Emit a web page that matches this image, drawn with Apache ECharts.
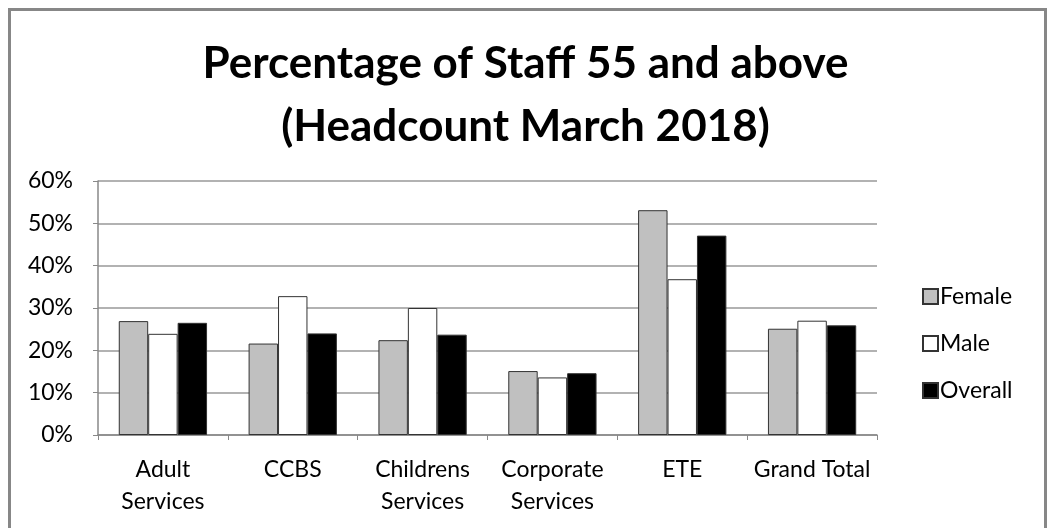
<!DOCTYPE html>
<html><head><meta charset="utf-8">
<script src="https://cdn.jsdelivr.net/npm/echarts@6/dist/echarts.min.js"></script>
<style>html,body{margin:0;padding:0;background:#fff}#c{width:1051px;height:528px}</style>
</head><body><div id="c"></div>
<script>
var categories = ['Adult\nServices', 'CCBS', 'Childrens\nServices', 'Corporate\nServices', 'ETE', 'Grand Total'];
var female = [26.9, 21.6, 22.4, 15.1, 53.1, 25.1];
var male = [23.9, 32.8, 30.0, 13.6, 36.8, 27.0];
var overall = [26.5, 24.0, 23.7, 14.6, 47.1, 25.9];
var yTicks = [0, 10, 20, 30, 40, 50, 60];

var FONT = 'Lato, "Open Sans", sans-serif';
var chart = echarts.init(document.getElementById('c'));
function s(name, data, color) {
  return {name: name, type: 'bar', data: data, barGap: '0%', barCategoryGap: '32%',
    itemStyle: {color: color, borderColor: '#333', borderWidth: 1}};
}
chart.setOption({
  animation: false,
  title: {text: 'Percentage of Staff 55 and above\n(Headcount March 2018)', left: 'center', top: 27,
    textStyle: {fontFamily: FONT, fontWeight: 'bold', fontSize: 44, lineHeight: 63, color: '#000'}},
  graphic: [{type: 'rect', shape: {x: 9.5, y: 9.5, width: 1036, height: 540},
    style: {fill: 'none', stroke: '#878787', lineWidth: 3}}],
  legend: {orient: 'vertical', left: 917, top: 280, itemGap: 24, itemWidth: 15, itemHeight: 15,
    icon: 'rect', textStyle: {fontFamily: FONT, fontSize: 23, color: '#000', padding: [0, 0, 0, -3]},
    data: ['Female', 'Male', 'Overall']},
  grid: {left: 98, right: 174, top: 181, bottom: 93},
  xAxis: {type: 'category', data: categories,
    axisLine: {lineStyle: {color: '#888', width: 1.5}},
    axisTick: {show: true, length: 5, lineStyle: {color: '#888'}},
    axisLabel: {interval: 0, fontFamily: FONT, fontSize: 23, color: '#000', lineHeight: 32, margin: 19}},
  yAxis: {type: 'value', min: 0, max: 60, interval: 10,
    axisLine: {show: true, lineStyle: {color: '#888', width: 1.5}},
    axisTick: {show: true, length: 5, lineStyle: {color: '#888'}},
    splitLine: {lineStyle: {color: '#999', width: 1.5}},
    axisLabel: {fontFamily: FONT, fontSize: 23, color: '#000', margin: 25,
      formatter: function(v){ return yTicks.indexOf(v) >= 0 ? v + '%' : ''; }}},
  series: [s('Female', female, '#c0c0c0'), s('Male', male, '#ffffff'), s('Overall', overall, '#000000')]
});
</script></body></html>
